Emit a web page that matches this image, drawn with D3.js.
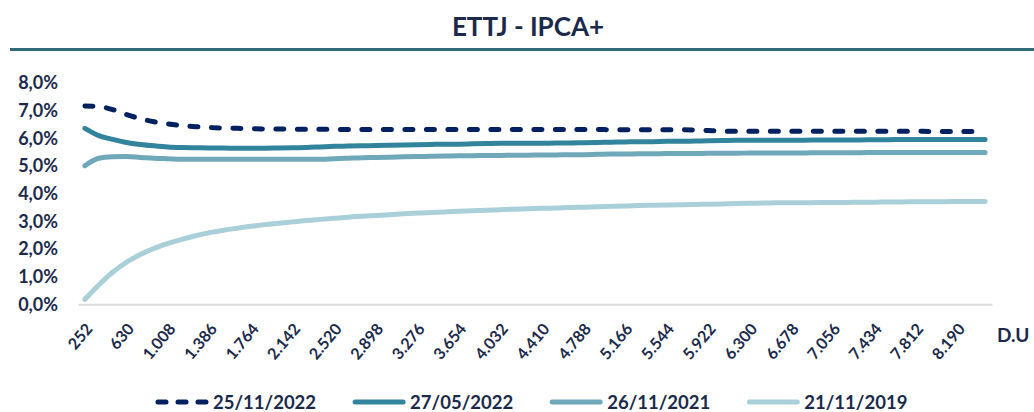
<!DOCTYPE html>
<html>
<head>
<meta charset="utf-8">
<script src="https://cdn.jsdelivr.net/npm/d3@7"></script>
<style>
  html, body { margin: 0; padding: 0; background: #fff; }
  svg { display: block; font-family: Lato, "Open Sans", sans-serif; font-weight: bold; }
</style>
</head>
<body>
<svg id="chart"></svg>
<script>
const width = 1034, height = 412;

// dias úteis (D.U)
const categories = [
  252, 378, 504, 630, 756, 882, 1008, 1134, 1260, 1386,
  1512, 1638, 1764, 1890, 2016, 2142, 2268, 2394, 2520, 2646,
  2772, 2898, 3024, 3150, 3276, 3402, 3528, 3654, 3780, 3906,
  4032, 4158, 4284, 4410, 4536, 4662, 4788, 4914, 5040, 5166,
  5292, 5418, 5544, 5670, 5796, 5922, 6048, 6174, 6300, 6426,
  6552, 6678, 6804, 6930, 7056, 7182, 7308, 7434, 7560, 7686,
  7812, 7938, 8064, 8190, 8316, 8442
];

const curve20221125 = [
  7.17, 7.15, 7.04, 6.86, 6.71, 6.60, 6.52, 6.46, 6.42, 6.39,
  6.37, 6.36, 6.35, 6.34, 6.34, 6.33, 6.33, 6.33, 6.32, 6.32,
  6.32, 6.32, 6.32, 6.32, 6.32, 6.32, 6.32, 6.32, 6.32, 6.32,
  6.32, 6.32, 6.32, 6.32, 6.32, 6.32, 6.32, 6.32, 6.31, 6.31,
  6.31, 6.31, 6.31, 6.31, 6.30, 6.28, 6.26, 6.26, 6.26, 6.26,
  6.26, 6.26, 6.26, 6.26, 6.26, 6.26, 6.26, 6.26, 6.26, 6.26,
  6.26, 6.25, 6.25, 6.25, 6.25, 6.25
];
const curve20220527 = [
  6.36, 6.10, 5.96, 5.85, 5.78, 5.73, 5.69, 5.67, 5.66, 5.65,
  5.65, 5.64, 5.64, 5.64, 5.65, 5.66, 5.67, 5.69, 5.71, 5.72,
  5.73, 5.74, 5.75, 5.76, 5.77, 5.78, 5.79, 5.79, 5.80, 5.81,
  5.82, 5.82, 5.82, 5.82, 5.83, 5.83, 5.84, 5.85, 5.86, 5.87,
  5.88, 5.88, 5.89, 5.89, 5.90, 5.91, 5.92, 5.93, 5.93, 5.93,
  5.93, 5.93, 5.93, 5.94, 5.94, 5.94, 5.94, 5.95, 5.95, 5.96,
  5.96, 5.96, 5.96, 5.96, 5.96, 5.96
];
const curve20211126 = [
  5.01, 5.28, 5.33, 5.34, 5.31, 5.28, 5.26, 5.24, 5.24, 5.24,
  5.24, 5.24, 5.24, 5.24, 5.24, 5.24, 5.24, 5.24, 5.26, 5.28,
  5.30, 5.31, 5.32, 5.33, 5.34, 5.35, 5.36, 5.37, 5.37, 5.38,
  5.38, 5.39, 5.39, 5.40, 5.40, 5.41, 5.41, 5.42, 5.43, 5.43,
  5.44, 5.44, 5.45, 5.45, 5.45, 5.46, 5.46, 5.46, 5.47, 5.47,
  5.47, 5.47, 5.47, 5.48, 5.48, 5.48, 5.48, 5.49, 5.49, 5.49,
  5.49, 5.49, 5.49, 5.49, 5.49, 5.49
];
const curve20191121 = [
  0.18, 0.70, 1.16, 1.52, 1.80, 2.02, 2.20, 2.35, 2.48, 2.59,
  2.68, 2.75, 2.82, 2.88, 2.93, 2.98, 3.03, 3.07, 3.11, 3.15,
  3.18, 3.21, 3.24, 3.27, 3.30, 3.32, 3.34, 3.36, 3.38, 3.40,
  3.42, 3.44, 3.45, 3.47, 3.48, 3.50, 3.51, 3.53, 3.54, 3.55,
  3.57, 3.58, 3.59, 3.60, 3.61, 3.62, 3.63, 3.64, 3.65, 3.66,
  3.67, 3.67, 3.67, 3.68, 3.68, 3.68, 3.69, 3.69, 3.70, 3.70,
  3.71, 3.71, 3.71, 3.72, 3.72, 3.72
];

const seriesNames = ["25/11/2022", "27/05/2022", "26/11/2021", "21/11/2019"];
const seriesValues = [curve20221125, curve20220527, curve20211126, curve20191121];
const seriesColors = ["#002060", "#31849B", "#6FA8B8", "#A9D0D9"];
const seriesDashed = [true, false, false, false];

const yTicks = [0, 1, 2, 3, 4, 5, 6, 7, 8];
const xTickLabels = categories.filter((d, i) => i % 3 === 0);

const textColor = "#1B2A4A";
const br = d3.formatLocale({ decimal: ",", thousands: ".", grouping: [3], currency: ["R$", ""] });
const fmtDU = br.format(",");
const fmtPct = d => br.format(".1f")(d) + "%";

const svg = d3.select("svg#chart").attr("width", width).attr("height", height);

// título
svg.append("text")
  .attr("x", 528).attr("y", 36)
  .attr("text-anchor", "middle")
  .attr("font-size", 26)
  .attr("fill", textColor)
  .text("ETTJ - IPCA+");
svg.append("line")
  .attr("x1", 10).attr("x2", width)
  .attr("y1", 49.5).attr("y2", 49.5)
  .attr("stroke", "#2F6B78").attr("stroke-width", 3);

const x = d3.scalePoint().domain(categories).range([78, 992]).padding(0.5);
const y = d3.scaleLinear().domain([0, 8]).range([304.3, 83]);

// eixo y
const yAxis = svg.append("g")
  .attr("transform", "translate(61,0)")
  .call(d3.axisLeft(y).tickValues(yTicks).tickFormat(fmtPct).tickSize(0).tickPadding(3));
yAxis.select(".domain").remove();
yAxis.selectAll("text")
  .attr("font-size", 18).attr("font-family", "Lato, sans-serif").attr("font-weight", "bold")
  .attr("fill", textColor);

// eixo x
const xAxis = svg.append("g")
  .attr("transform", "translate(0,304.3)")
  .call(d3.axisBottom(x).tickValues(xTickLabels).tickFormat(fmtDU).tickSize(0));
xAxis.select(".domain").attr("stroke", "#D9D9D9").attr("stroke-width", 2);
xAxis.selectAll("text")
  .attr("font-size", 16).attr("font-family", "Lato, sans-serif").attr("font-weight", "bold")
  .attr("fill", textColor)
  .attr("text-anchor", "end")
  .attr("dy", 0).attr("y", 0)
  .attr("transform", "translate(8,25) rotate(-50)");

svg.append("text")
  .attr("x", 997).attr("y", 342)
  .attr("font-size", 19)
  .attr("fill", textColor)
  .text("D.U");

// linhas
const line = d3.line()
  .x((d, i) => x(categories[i]))
  .y(d => y(d))
  .curve(d3.curveMonotoneX);

const order = [3, 2, 1, 0];
svg.append("g").selectAll("path")
  .data(order)
  .join("path")
  .attr("d", k => line(seriesValues[k]))
  .attr("fill", "none")
  .attr("stroke", k => seriesColors[k])
  .attr("stroke-width", 5)
  .attr("stroke-linecap", "round")
  .attr("stroke-linejoin", "round")
  .attr("stroke-dasharray", k => seriesDashed[k] ? "8,13.5" : null);

// legenda
const legend = svg.append("g").attr("transform", "translate(0,402)");
let lx = 156;
seriesNames.forEach((name, k) => {
  const g = legend.append("g").attr("transform", `translate(${lx},0)`);
  g.append("line")
    .attr("x1", 2).attr("x2", 50).attr("y1", 0).attr("y2", 0)
    .attr("stroke", seriesColors[k]).attr("stroke-width", 5)
    .attr("stroke-linecap", "round")
    .attr("stroke-dasharray", seriesDashed[k] ? "8,12" : null);
  const t = g.append("text")
    .attr("x", 57).attr("y", 6.5)
    .attr("font-size", 18.5)
    .attr("fill", textColor)
    .text(name);
  lx += 57 + t.node().getComputedTextLength() + 37;
});
</script>
</body>
</html>
